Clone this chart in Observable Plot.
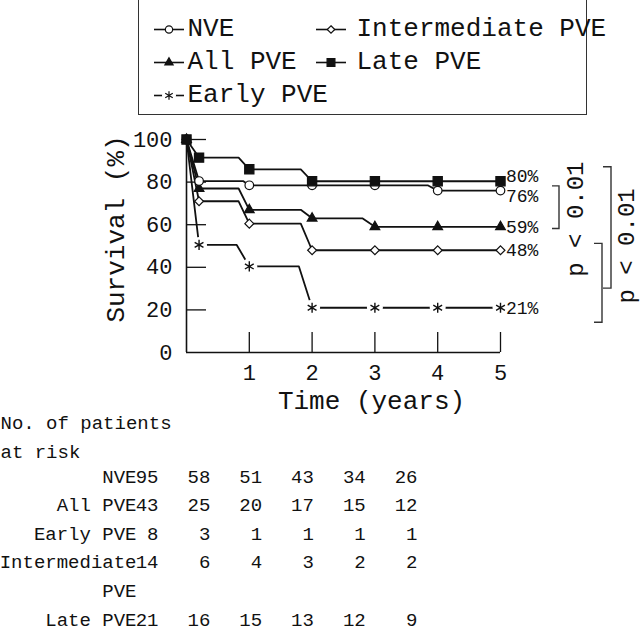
<!DOCTYPE html>
<html><head><meta charset="utf-8">
<script src="https://cdn.jsdelivr.net/npm/d3@7"></script>
<script src="https://cdn.jsdelivr.net/npm/@observablehq/plot@0.6"></script>
<style>
body{margin:0;background:#fff;font-family:"Liberation Mono",monospace;color:#111}
#wrap{position:relative;width:640px;height:631px;overflow:hidden}
#legend{position:absolute;left:138px;top:-2px;width:449px;height:117px;border:1.5px solid #333;box-sizing:border-box;z-index:2}
.item{position:absolute;display:flex;align-items:center;font-size:26px;white-space:nowrap;height:33px;line-height:33px}
#chart{position:absolute;left:0;top:115px}
#table{position:absolute;left:0;top:410px}
</style></head><body>
<div id="wrap"><div id="legend"></div><div id="chart"></div><div id="table"></div></div>
<script>
// ---- Data ----
const seriesNames = ["NVE", "All PVE", "Early PVE", "Intermediate PVE", "Late PVE"];
const nveT   = [0, 0.2, 0.9, 1, 2, 3, 3.84, 4, 5];
const nveS   = [100, 80.5, 80.5, 78.5, 78.5, 78.5, 78.5, 76, 76];
const allT   = [0, 0.2, 0.83, 1, 1.82, 2, 2.8, 3, 4, 5];
const allS   = [100, 77, 77, 67, 67, 63, 63, 59, 59, 59];
const earlyT = [0, 0.2, 0.8, 1, 1.79, 2, 3, 4, 5];
const earlyS = [100, 50.5, 50.5, 40.4, 40.4, 21, 21, 21, 21];
const interT = [0, 0.2, 0.83, 1, 1.82, 2, 3, 4, 5];
const interS = [100, 71, 71, 60.5, 60.5, 48, 48, 48, 48];
const lateT  = [0, 0.2, 0.83, 1, 1.82, 2, 3, 4, 5];
const lateS  = [100, 91.5, 91.5, 86, 86, 80.4, 80.4, 80.4, 80.4];
const markerTimes = [0, 0.2, 1, 2, 3, 4, 5];
const endLabels = ["76%", "59%", "21%", "48%", "80%"];

const xTicks = [1, 2, 3, 4, 5];
const yTicks = [0, 20, 40, 60, 80, 100];

// comparisons (survival range spanned by each bracket)
const bracketTop    = [78, 87, 51];
const bracketBottom = [58, 30, 14];
const pLabels = ["p < 0.01", "p < 0.01"];
const pLabelY = [62.4, 49.8];

// numbers at risk
const riskYears = [0, 1, 2, 3, 4, 5];
const riskLabels = ["NVE", "All PVE", "Early PVE", "Intermediate\nPVE", "Late PVE"];
const riskNVE   = [95, 58, 51, 43, 34, 26];
const riskAll   = [43, 25, 20, 17, 15, 12];
const riskEarly = [8, 3, 1, 1, 1, 1];
const riskInter = [14, 6, 4, 3, 2, 2];
const riskLate  = [21, 16, 15, 13, 12, 9];

// ---- styles per series ----
const ink = "#111";
const styles = {
  "NVE":              {symbol: "circle",   fill: "white", r: 4.3},
  "All PVE":          {symbol: "triangle", fill: ink,     r: 3.6},
  "Early PVE":        {symbol: "asterisk", fill: "none",  r: 4.8},
  "Intermediate PVE": {symbol: "diamond2", fill: "white", r: 4.0},
  "Late PVE":         {symbol: "square",   fill: ink,     r: 5.2}
};
const tArr = [nveT, allT, earlyT, interT, lateT];
const sArr = [nveS, allS, earlyS, interS, lateS];
const rows = seriesNames.flatMap((name, k) => tArr[k].map((t, i) => ({series: name, t, s: sArr[k][i]})));
const markers = rows.filter(d => markerTimes.includes(d.t));
const ends = seriesNames.map((name, k) => ({series: name, t: 5, s: sArr[k][sArr[k].length - 1], label: endLabels[k]}));

const font = "Liberation Mono, monospace";

// ---- legend ----
const legendOrder = ["NVE", "Intermediate PVE", "All PVE", "Late PVE", "Early PVE"];
const legend = document.getElementById("legend");
legendOrder.forEach((name, i) => {
  const col = i % 2, row = Math.floor(i / 2);
  const st = styles[name];
  const item = document.createElement("div");
  item.className = "item";
  item.style.left = (col ? 175.5 : 13.5) + "px";
  item.style.top = (14 + row * 33) + "px";
  const w = 32, h = 33;
  const svg = d3.create("svg").attr("width", w).attr("height", h).style("flex", "none");
  svg.append("line").attr("x1", 1).attr("x2", w - 1).attr("y1", h / 2).attr("y2", h / 2)
     .attr("stroke", ink).attr("stroke-width", 1.6);
  const sym = {circle: d3.symbolCircle, triangle: d3.symbolTriangle, asterisk: d3.symbolAsterisk, diamond2: d3.symbolDiamond2, square: d3.symbolSquare}[st.symbol];
  const size = Math.PI * (st.r * 0.85) ** 2;
  if (st.symbol === "asterisk") svg.append("circle").attr("cx", w / 2).attr("cy", h / 2).attr("r", 7).attr("fill", "white");
  svg.append("path").attr("d", d3.symbol(sym, size)()).attr("transform", `translate(${w / 2},${h / 2})`)
     .attr("fill", st.fill).attr("stroke", ink).attr("stroke-width", 1.2);
  item.appendChild(svg.node());
  const span = document.createElement("span");
  span.textContent = name;
  span.style.marginLeft = (col ? 10 : 3) + "px";
  item.appendChild(span);
  legend.appendChild(item);
});

// ---- brackets (render mark) ----
function brackets(index, scales) {
  const g = d3.create("svg:g").attr("fill", "none").attr("stroke", "#333").attr("stroke-width", 1.4);
  const x5 = scales.x(5);
  const vx = [59, 111, 102];   // vertical line offsets (px) from the end of the curves
  const tick = [7, 8, 8];
  bracketTop.forEach((top, i) => {
    const y1 = scales.y(top), y2 = scales.y(bracketBottom[i]);
    const x = x5 + vx[i];
    g.append("path").attr("d", `M${x - tick[i]},${y1}H${x}V${y2}H${x - tick[i]}`);
  });
  const lx = [75, 126];
  pLabels.forEach((txt, i) => {
    g.append("text").attr("transform", `translate(${x5 + lx[i]},${scales.y(pLabelY[i])}) rotate(-90)`)
      .attr("text-anchor", "middle").attr("dy", "0.35em").attr("stroke", "none").attr("fill", ink)
      .attr("font-size", 24).attr("font-family", font).text(txt);
  });
  return g.node();
}

// end labels with collision avoidance
function spreadLabels(index, scales) {
  const g = d3.create("svg:g").attr("font-family", font).attr("font-size", 18).attr("fill", ink).attr("text-anchor", "start");
  const items = ends.map(d => ({d, y: scales.y(d.s)})).sort((a, b) => a.y - b.y);
  for (let pass = 0; pass < 5; pass++) {
    for (let i = 1; i < items.length; i++) {
      const gap = items[i].y - items[i - 1].y;
      if (gap < 20) { const p = (20 - gap) / 2; items[i].y += p; items[i - 1].y -= p; }
    }
  }
  items.forEach(it => g.append("text").attr("x", scales.x(it.d.t) + 6).attr("y", it.y).attr("dy", "0.35em").text(it.d.label));
  return g.node();
}

const W = 640, H = 297, mT = 24, mB = 60, mL = 186, mR = 140;
const frameW = W - mL - mR, frameH = H - mT - mB, tickLen = 20;

const chart = Plot.plot({
  width: W, height: H,
  marginTop: mT, marginBottom: mB, marginLeft: mL, marginRight: mR,
  x: {domain: [0, 5]},
  y: {domain: [0, 100]},
  style: {fontFamily: font, fontSize: "22px", background: "transparent", color: ink, overflow: "visible"},
  marks: [
    Plot.ruleX([0], {stroke: ink, strokeWidth: 1.6}),
    Plot.ruleY([0], {stroke: ink, strokeWidth: 1.6}),
    Plot.tickY(yTicks.filter(v => v > 0), {y: d => d, insetRight: frameW - tickLen, stroke: ink, strokeWidth: 1.3}),
    Plot.tickX(xTicks, {x: d => d, insetTop: frameH - tickLen, stroke: ink, strokeWidth: 1.3}),
    Plot.axisY({ticks: yTicks, tickSize: 0, tickPadding: 14, label: null, fontSize: 22, fill: ink}),
    Plot.axisX({ticks: xTicks, tickSize: 0, tickPadding: 12, label: null, fontSize: 22, fill: ink, tickFormat: d => String(d)}),
    Plot.line(rows, {x: "t", y: "s", z: "series", stroke: ink, strokeWidth: 1.8}),
    Plot.dot(markers.filter(d => d.series === "Early PVE" && d.t > 0), {x: "t", y: "s", r: 8, fill: "white"}),
    ...["Early PVE", "Intermediate PVE", "All PVE", "NVE", "Late PVE"].map(name =>
      Plot.dot(markers.filter(d => d.series === name), {
        x: "t", y: "s", symbol: styles[name].symbol, r: styles[name].r,
        fill: styles[name].fill, stroke: ink, strokeWidth: name === "Early PVE" ? 1.4 : 1.2
      })),
    spreadLabels,
    brackets,
    Plot.text(["Survival (%)"], {frameAnchor: "left", textAnchor: "middle", lineAnchor: "middle", dx: -71, dy: -17, rotate: -90, fontSize: 26, fill: ink}),
    Plot.text(["Time (years)"], {frameAnchor: "bottom", textAnchor: "middle", lineAnchor: "middle", dx: 28, dy: 48, fontSize: 26, fill: ink})
  ]
});
document.getElementById("chart").appendChild(chart);

// ---- numbers at risk table ----
const riskArr = [riskNVE, riskAll, riskEarly, riskInter, riskLate];
let line = 0;
const tableRows = riskLabels.map(label => { const r = {label, line}; line += label.split("\n").length; return r; });
const labelLines = tableRows.flatMap(r => r.label.split("\n").map((text, j) => ({text, line: r.line + j})));
const cells = tableRows.flatMap((r, k) => riskArr[k].map((n, i) => ({year: riskYears[i], line: r.line, n})));

const table = Plot.plot({
  width: 640, height: 221, margin: 0,
  x: {domain: [0, 5], range: [158, 417], axis: null},
  y: {domain: [0, 5], range: [66, 209], axis: null},
  style: {fontFamily: font, fontSize: "19px", background: "transparent", color: ink, overflow: "visible"},
  marks: [
    Plot.text(["No. of patients\nat risk"], {frameAnchor: "top-left", textAnchor: "start", lineAnchor: "top", lineHeight: 1.53, dy: -2, fontSize: 19, fill: ink}),
    Plot.text(labelLines, {x: 0, y: "line", text: "text", textAnchor: "end", lineAnchor: "middle", dx: -22, fontSize: 19, fill: ink}),
    Plot.text(cells, {x: "year", y: "line", text: "n", textAnchor: "end", lineAnchor: "middle", fontSize: 19, fill: ink})
  ]
});
document.getElementById("table").appendChild(table);
</script>
</body></html>
